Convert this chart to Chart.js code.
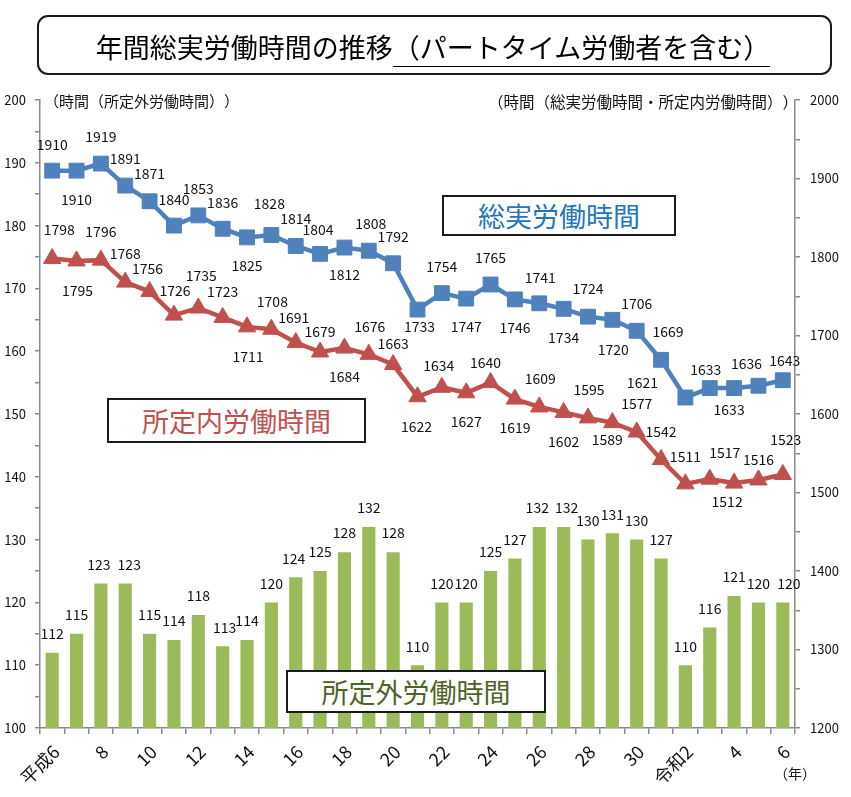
<!DOCTYPE html>
<html>
<head>
<meta charset="utf-8">
<script src="https://cdn.jsdelivr.net/npm/chart.js@4.4.1/dist/chart.umd.min.js"></script>
<style>
html,body{margin:0;padding:0;background:#fff;}
#wrap{position:relative;width:851px;height:797px;overflow:hidden;font-family:"Noto Sans CJK JP","Noto Sans",sans-serif;color:#111;text-spacing-trim:space-all;}
#c{position:absolute;left:0;top:0;}
.abs{position:absolute;white-space:nowrap;text-spacing-trim:space-all;}
.box{position:absolute;background:#fff;border:2px solid #1a1a1a;box-sizing:border-box;display:flex;align-items:center;justify-content:center;white-space:nowrap;}
#titleBox{left:37px;top:15px;width:795px;height:60px;border-radius:11px;background:transparent;}
#titleText{left:0;width:866px;top:27px;text-align:center;font-size:27px;line-height:40px;color:#000;}
#titleText span{border-bottom:1.5px solid #000;}
</style>
</head>
<body>
<div id="wrap">
  <canvas id="c" width="851" height="797"></canvas>
  <div id="titleBox" class="box"></div>
  <div id="titleText" class="abs">年間総実労働時間の推移<span>（パートタイム労働者を含む）</span></div>
  <div class="abs" style="left:44px;top:90px;font-size:15px;line-height:22px;">（時間（所定外労働時間））</div>
  <div class="abs" style="right:53px;top:90px;font-size:15.5px;line-height:22px;">（時間（総実労働時間・所定内労働時間））</div>
  <div class="box" style="left:442px;top:195px;width:234px;height:41px;font-size:27px;color:#2375BD;">総実労働時間</div>
  <div class="box" style="left:107px;top:398px;width:259px;height:45px;font-size:27px;color:#C0504D;">所定内労働時間</div>
  <div class="box" style="left:286px;top:670px;width:260px;height:43px;font-size:27px;color:#4F6228;">所定外労働時間</div>
  <div class="abs" style="left:774px;top:762px;font-size:14px;line-height:22px;">（年）</div>
</div>
<script>
// ---- data ----
const years = ['平成6','7','8','9','10','11','12','13','14','15','16','17','18','19','20','21','22','23','24','25','26','27','28','29','30','元','令和2','3','4','5','6'];
const overtimeHours = [112,115,123,123,115,114,118,113,114,120,124,125,128,132,128,110,120,120,125,127,132,132,130,131,130,127,110,116,121,120,120];
const totalHours = [1910,1910,1919,1891,1871,1840,1853,1836,1825,1828,1814,1804,1812,1808,1792,1733,1754,1747,1765,1746,1741,1734,1724,1720,1706,1669,1621,1633,1633,1636,1643];
const scheduledHours = [1798,1795,1796,1768,1756,1726,1735,1723,1711,1708,1691,1679,1684,1676,1663,1622,1634,1627,1640,1619,1609,1602,1595,1589,1577,1542,1511,1517,1512,1516,1523];
const leftAxisRange = [100, 200];
const rightAxisRange = [1200, 2000];

// ---- label placement (style) ----
const totalLabelOffset = [[0,-26],[0,29],[0,-27],[0,-27],[0,-28],[0,-26],[0,-27],[0,-26],[0,28],[-2,-31],[0,-27],[-2,-24],[0,27],[2,-27],[0,-27],[2,17],[0,-26],[0,28],[0,-27],[0,28],[1,-26],[0,29],[0,-28],[1,30],[0,-27],[7,-28],[-43,-15],[-4,-18],[-5,22],[-12,-22],[2,-20]];
const scheduledLabelOffset = [[7,-29],[1,30],[0,-28],[0,-28],[-2,-23],[1,-24],[3,-32],[0,-26],[1,30],[1,-28],[-2,-25],[0,-20],[0,29],[1,-28],[0,-21],[-1,30],[-3,-22],[0,29],[-5,-20],[0,29],[1,-28],[0,29],[1,-28],[-5,17],[0,-28],[0,-28],[0,-27],[15,-26],[-7,19],[0,-20],[3,-35]];
const barLabelDx = [0,0,-2,4,0,0,0,2,0,0,-2,0,0,0,0,0,0,0,0,0,-2,3,0,0,0,0,0,0,0,0,6];

const FONT = '"Noto Sans CJK JP","Noto Sans",sans-serif';
Chart.defaults.font.family = FONT;
Chart.defaults.color = '#111';

const labelPlugin = {
  id: 'valueLabels',
  afterDatasetsDraw(chart) {
    const ctx = chart.ctx;
    ctx.save();
    ctx.font = '14px ' + FONT;
    ctx.fillStyle = '#111';
    ctx.textAlign = 'center';
    ctx.textBaseline = 'middle';
    chart.data.datasets.forEach((ds, di) => {
      const meta = chart.getDatasetMeta(di);
      meta.data.forEach((el, i) => {
        let dx = 0, dy = 0;
        if (ds.labelKind === 'total') { [dx, dy] = totalLabelOffset[i]; }
        else if (ds.labelKind === 'scheduled') { [dx, dy] = scheduledLabelOffset[i]; }
        else { dx = barLabelDx[i]; dy = -19; }
        ctx.fillText(String(ds.data[i]), el.x + dx, el.y + dy);
      });
    });
    ctx.restore();
  }
};

const axisColor = '#8a8a8a';
new Chart(document.getElementById('c'), {
  data: {
    labels: years,
    datasets: [
      { type: 'line', label: '総実労働時間', labelKind: 'total', data: totalHours, yAxisID: 'y2',
        borderColor: '#4F81BD', backgroundColor: '#4F81BD', borderWidth: 4.5,
        pointStyle: 'rect', pointRadius: 10.5, pointHoverRadius: 10.5, pointBorderWidth: 1,
        pointBackgroundColor: '#4F81BD', pointBorderColor: '#4F81BD', tension: 0, order: 0 },
      { type: 'line', label: '所定内労働時間', labelKind: 'scheduled', data: scheduledHours, yAxisID: 'y2',
        borderColor: '#C0504D', backgroundColor: '#C0504D', borderWidth: 4.5,
        pointStyle: 'triangle', pointRadius: 10, pointHoverRadius: 10, pointBorderWidth: 1,
        pointBackgroundColor: '#C0504D', pointBorderColor: '#C0504D', tension: 0, order: 1 },
      { type: 'bar', label: '所定外労働時間', labelKind: 'bar', data: overtimeHours, yAxisID: 'y',
        backgroundColor: '#9BBB59', barPercentage: 0.54, categoryPercentage: 1, order: 2 }
    ]
  },
  options: {
    responsive: false,
    animation: false,
    devicePixelRatio: 1,
    layout: { padding: { top: 100, left: 0, right: 0, bottom: 0 } },
    plugins: { legend: { display: false }, tooltip: { enabled: false }, title: { display: false } },
    scales: {
      x: {
        grid: { offset: true, drawOnChartArea: false, drawTicks: true, tickLength: 6, color: axisColor, lineWidth: 1.5 },
        border: { color: axisColor, width: 1.5 },
        ticks: { autoSkip: false, maxRotation: 45, minRotation: 45, padding: 7, labelOffset: 4, color: '#111',
          font: { size: 18, family: FONT },
          callback: (v, i) => (i % 2 === 0 ? years[i] : '') },
        afterFit: s => { s.height = 69; }
      },
      y: {
        position: 'left', min: leftAxisRange[0], max: leftAxisRange[1],
        grid: { drawOnChartArea: false, tickLength: 5, color: axisColor, lineWidth: 1.5 },
        border: { color: axisColor, width: 1.5 },
        ticks: { stepSize: 5, padding: 9, color: '#111', font: { size: 13, family: FONT },
          callback: v => (v % 10 === 0 ? String(v) : '') },
        afterFit: s => { s.width = 40; }
      },
      y2: {
        position: 'right', min: rightAxisRange[0], max: rightAxisRange[1],
        grid: { drawOnChartArea: false, tickLength: 5, color: axisColor, lineWidth: 1.5 },
        border: { color: axisColor, width: 1.5 },
        ticks: { stepSize: 50, padding: 10, color: '#111', font: { size: 13, family: FONT },
          callback: v => (v % 100 === 0 ? String(v) : '') },
        afterFit: s => { s.width = 56; }
      }
    }
  },
  plugins: [labelPlugin]
});
</script>
</body>
</html>
